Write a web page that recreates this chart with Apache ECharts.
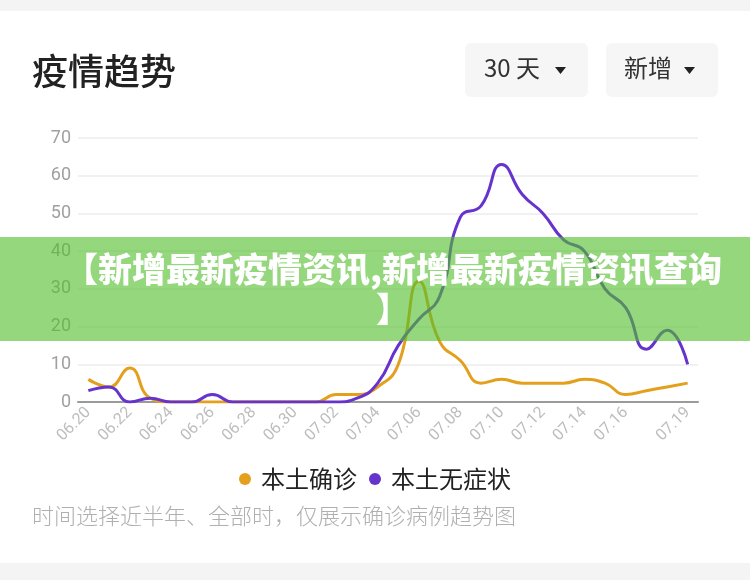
<!DOCTYPE html>
<html>
<head>
<meta charset="utf-8">
<script src="https://cdn.jsdelivr.net/npm/echarts@6/dist/echarts.min.js"></script>
<style>
  html, body { margin: 0; padding: 0; background: #fff; }
  #chart { width: 750px; height: 580px; }
</style>
</head>
<body>
<div id="chart"></div>
<script>
const dates = ['06.20','06.21','06.22','06.23','06.24','06.25','06.26','06.27','06.28','06.29','06.30',
  '07.01','07.02','07.03','07.04','07.05','07.06','07.07','07.08','07.09','07.10','07.11','07.12','07.13','07.14','07.15','07.16','07.17','07.18','07.19'];
const confirmed = [6,4,9,1,0,0,0,0,0,0,0, 0,2,2,4,10,32,16,11,5,6,5,5,5,6,5,2,3,4,5];
const asymptomatic = [3,4,0,1,0,0,2,0,0,0,0, 0,0,1,5,15,22,28,49,52,63,55,50,43,40,30,25,14,19,10];
const seriesNames = ['本土确诊', '本土无症状'];
const yTicks = [0, 70, 10];

const FONT = '"Noto Sans CJK SC", "Noto Sans", sans-serif';
const chart = echarts.init(document.getElementById('chart'), null, { renderer: 'canvas' });

chart.setOption({
  backgroundColor: '#ffffff',
  animation: false,
  grid: { left: 78, right: 52, top: 138, bottom: 178 },
  legend: {
    data: seriesNames,
    top: 462,
    left: 'center',
    icon: 'circle',
    itemWidth: 22,
    itemHeight: 12,
    itemGap: 12,
    textStyle: { fontSize: 24, color: '#222', fontFamily: FONT }
  },
  xAxis: {
    type: 'category',
    data: dates,
    boundaryGap: true,
    axisTick: { show: false },
    axisLine: { lineStyle: { color: '#9a9a9a', width: 2 } },
    axisLabel: {
      rotate: 45,
      color: '#bdbdbd',
      fontSize: 16,
      margin: 8,
      fontFamily: 'Roboto, ' + FONT,
      interval: function (i) { return (i % 2 === 0 && i < 28) || i === 29; }
    }
  },
  yAxis: {
    type: 'value',
    min: yTicks[0],
    max: yTicks[1],
    interval: yTicks[2],
    axisLine: { show: false },
    axisTick: { show: false },
    splitLine: { lineStyle: { color: '#ececec', width: 1.5 } },
    axisLabel: { color: '#a0a0a0', fontSize: 18, margin: 7, fontFamily: 'Roboto, ' + FONT }
  },
  series: [
    {
      name: seriesNames[0], type: 'line', data: confirmed, smooth: 0.5,
      showSymbol: false, symbol: 'circle',
      lineStyle: { width: 3, color: '#e3a01c' }, itemStyle: { color: '#e3a01c' }
    },
    {
      name: seriesNames[1], type: 'line', data: asymptomatic, smooth: 0.5,
      showSymbol: false, symbol: 'circle',
      lineStyle: { width: 3, color: '#6634cc' }, itemStyle: { color: '#6634cc' }
    }
  ],
  graphic: [
    { type: 'rect', left: 0, top: 0, shape: { width: 750, height: 11 }, style: { fill: '#f4f4f4' }, z: 50 },
    { type: 'rect', left: 0, top: 563, shape: { width: 750, height: 17 }, style: { fill: '#f4f4f4' }, z: 50 },
    { type: 'text', left: 32, top: 53, style: { text: '疫情趋势', font: '500 36px ' + FONT, fill: '#222' }, z: 50 },
    { type: 'rect', left: 465, top: 43, shape: { width: 123, height: 54, r: 6 }, style: { fill: '#f6f6f6' }, z: 50 },
    { type: 'text', left: 484, top: 56, style: { text: '30 天', font: '24px ' + FONT, fill: '#333' }, z: 51 },
    { type: 'polygon', shape: { points: [[555, 67], [566, 67], [560.5, 74]] }, style: { fill: '#222' }, z: 51 },
    { type: 'rect', left: 606, top: 43, shape: { width: 112, height: 54, r: 6 }, style: { fill: '#f6f6f6' }, z: 50 },
    { type: 'text', left: 624, top: 56, style: { text: '新增', font: '24px ' + FONT, fill: '#333' }, z: 51 },
    { type: 'polygon', shape: { points: [[684, 67], [695, 67], [689.5, 74]] }, style: { fill: '#222' }, z: 51 },
    { type: 'text', left: 32, top: 505, style: { text: '时间选择近半年、全部时，仅展示确诊病例趋势图', font: '300 22px ' + FONT, fill: '#b0b0b0' }, z: 50 },
    { type: 'rect', left: 0, top: 237, shape: { width: 750, height: 104 }, style: { fill: 'rgba(82,190,45,0.62)' }, z: 100 },
    { type: 'text', x: 393, y: 249, style: { text: '【新增最新疫情资讯,新增最新疫情资讯查询\n】', font: '900 34px ' + FONT, fill: '#ffffff', textAlign: 'center', lineHeight: 40 }, z: 101 }
  ]
});
</script>
</body>
</html>
